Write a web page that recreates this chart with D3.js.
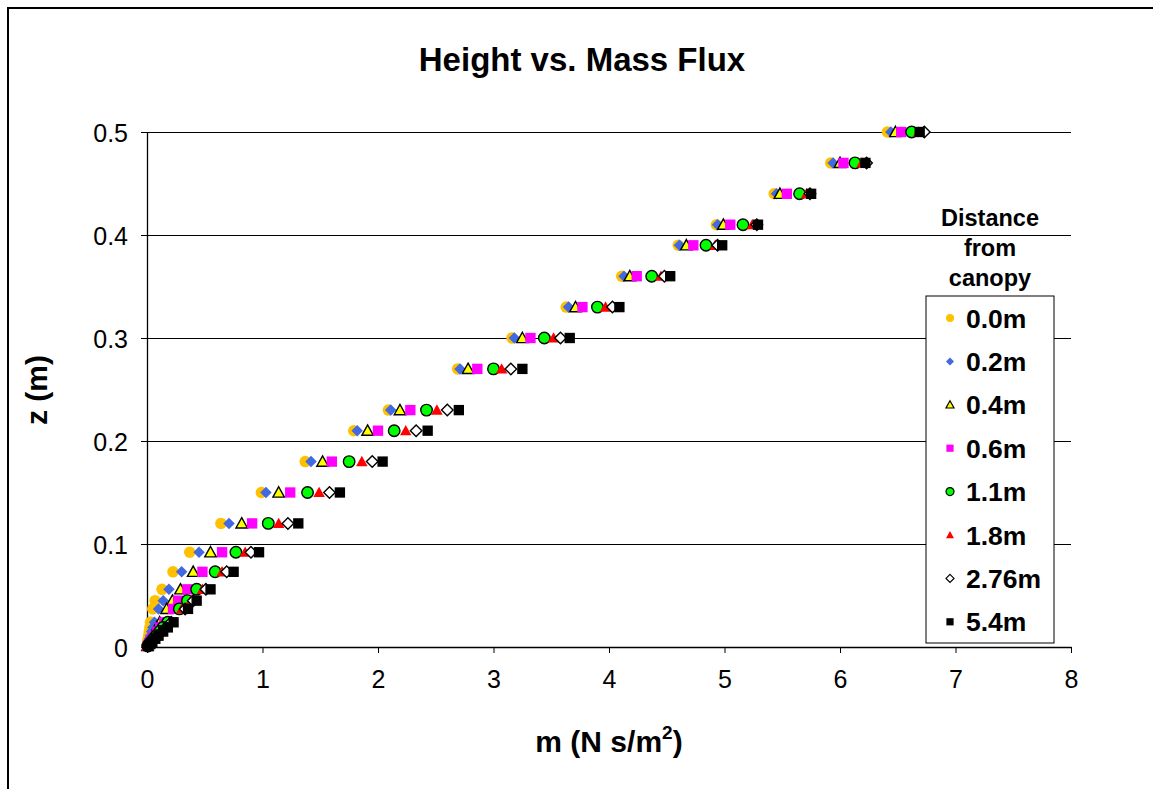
<!DOCTYPE html>
<html>
<head>
<meta charset="utf-8">
<script src="https://cdn.jsdelivr.net/npm/d3@7"></script>
<style>
  html, body { margin: 0; padding: 0; background: #fff; }
  svg { display: block; }
  text { font-family: "Liberation Sans", Arial, sans-serif; }
</style>
</head>
<body>
<svg id="chart" width="1153" height="789"></svg>
<script>
// Heights above ground (m) at which mass flux was measured
const heights = [0.5, 0.47, 0.44, 0.41, 0.39, 0.36, 0.33, 0.30, 0.27, 0.23, 0.21, 0.18, 0.15, 0.12,
                 0.092, 0.073, 0.056, 0.045, 0.037, 0.024, 0.019, 0.015, 0.011, 0.008, 0.005, 0.003, 0.001];

// Mass flux m (N s/m^2) for each distance from the canopy
const flux00  = [6.41, 5.92, 5.43, 4.93, 4.60, 4.11, 3.63, 3.16, 2.69, 2.09, 1.79, 1.37, 0.99, 0.64,
                 0.37, 0.225, 0.13, 0.07, 0.05, 0.03, 0.025, 0.02, 0.015, 0.01, 0.006, 0.004, 0.001];
const flux02  = [6.44, 5.94, 5.45, 4.94, 4.61, 4.13, 3.65, 3.18, 2.71, 2.11, 1.82, 1.42, 1.03, 0.71,
                 0.45, 0.30, 0.19, 0.14, 0.10, 0.065, 0.05, 0.04, 0.03, 0.02, 0.013, 0.008, 0.003];
const flux04  = [6.48, 6.00, 5.48, 4.99, 4.67, 4.18, 3.71, 3.25, 2.78, 2.19, 1.91, 1.52, 1.14, 0.82,
                 0.55, 0.40, 0.29, 0.22, 0.17, 0.11, 0.085, 0.065, 0.048, 0.034, 0.022, 0.013, 0.005];
const flux06  = [6.53, 6.03, 5.54, 5.05, 4.73, 4.24, 3.77, 3.32, 2.86, 2.28, 2.00, 1.60, 1.24, 0.91,
                 0.65, 0.48, 0.35, 0.27, 0.225, 0.15, 0.115, 0.09, 0.065, 0.047, 0.03, 0.018, 0.006];
const flux11  = [6.62, 6.13, 5.65, 5.16, 4.84, 4.37, 3.90, 3.44, 3.00, 2.42, 2.14, 1.75, 1.39, 1.05,
                 0.77, 0.59, 0.43, 0.35, 0.28, 0.18, 0.14, 0.11, 0.08, 0.057, 0.036, 0.022, 0.007];
const flux18  = [6.68, 6.19, 5.71, 5.24, 4.92, 4.45, 3.97, 3.52, 3.07, 2.51, 2.24, 1.86, 1.49, 1.14,
                 0.85, 0.65, 0.48, 0.38, 0.30, 0.195, 0.15, 0.12, 0.087, 0.062, 0.04, 0.024, 0.008];
const flux276 = [6.73, 6.23, 5.74, 5.28, 4.94, 4.48, 4.03, 3.58, 3.15, 2.60, 2.33, 1.95, 1.58, 1.22,
                 0.90, 0.69, 0.51, 0.40, 0.33, 0.21, 0.165, 0.13, 0.095, 0.068, 0.043, 0.026, 0.009];
const flux54  = [6.69, 6.22, 5.75, 5.29, 4.98, 4.53, 4.09, 3.66, 3.25, 2.70, 2.43, 2.04, 1.67, 1.31,
                 0.97, 0.75, 0.55, 0.43, 0.355, 0.23, 0.18, 0.14, 0.10, 0.072, 0.046, 0.028, 0.01];

const seriesLabels = ["0.0m", "0.2m", "0.4m", "0.6m", "1.1m", "1.8m", "2.76m", "5.4m"];
const seriesValues = [flux00, flux02, flux04, flux06, flux11, flux18, flux276, flux54];

const xTicks = [0, 1, 2, 3, 4, 5, 6, 7, 8];
const yTicks = [0, 0.1, 0.2, 0.3, 0.4, 0.5];

// Marker styling per series: shape, fill, stroke
const markerStyles = [
  { shape: "circle",   fill: "#FFC000", stroke: "none" },
  { shape: "diamond",  fill: "#4169E1", stroke: "none" },
  { shape: "triangle", fill: "#FFFF00", stroke: "#000" },
  { shape: "square",   fill: "#FF00FF", stroke: "none" },
  { shape: "circle",   fill: "#00FF00", stroke: "#000" },
  { shape: "triangle", fill: "#FF0000", stroke: "none" },
  { shape: "diamond",  fill: "#FFFFFF", stroke: "#000" },
  { shape: "square",   fill: "#000000", stroke: "none" }
];

function markerPath(shape, s) {
  const h = s / 2;
  switch (shape) {
    case "circle":
      return `M${h},0A${h},${h} 0 1,1 ${-h},0A${h},${h} 0 1,1 ${h},0Z`;
    case "diamond":
      return `M0,${-h}L${h},0L0,${h}L${-h},0Z`;
    case "triangle":
      return `M0,${-h}L${h},${h * 0.8}L${-h},${h * 0.8}Z`;
    case "square":
      return `M${-h * 0.9},${-h * 0.9}H${h * 0.9}V${h * 0.9}H${-h * 0.9}Z`;
  }
}

const svg = d3.select("#chart");
const W = 1153, H = 789;
const plot = { left: 147, right: 1071, top: 132, bottom: 647 };

// Outer chart frame
svg.append("rect")
  .attr("x", 8).attr("y", 8)
  .attr("width", W + 10).attr("height", H + 10)
  .attr("fill", "#fff").attr("stroke", "#000").attr("stroke-width", 2);

const x = d3.scaleLinear().domain([0, 8]).range([plot.left, plot.right]);
const y = d3.scaleLinear().domain([0, 0.5]).range([plot.bottom, plot.top]);

// Horizontal gridlines
svg.append("g")
  .selectAll("line")
  .data(yTicks.filter(d => d > 0))
  .join("line")
  .attr("x1", plot.left).attr("x2", plot.right)
  .attr("y1", d => y(d)).attr("y2", d => y(d))
  .attr("stroke", "#000").attr("stroke-width", 1)
  .attr("shape-rendering", "crispEdges");

// Axes
const xAxis = svg.append("g")
  .attr("transform", `translate(0,${plot.bottom})`)
  .call(d3.axisBottom(x).tickValues(xTicks).tickFormat(d3.format("d")).tickSize(6).tickSizeOuter(0).tickPadding(22));
const yAxis = svg.append("g")
  .attr("transform", `translate(${plot.left},0)`)
  .call(d3.axisLeft(y).tickValues(yTicks).tickFormat(d => d === 0 ? "0" : d3.format(".1f")(d)).tickSize(6).tickSizeOuter(0).tickPadding(13));

[xAxis, yAxis].forEach(g => {
  g.select(".domain").attr("stroke", "#000").attr("stroke-width", 1.3);
  g.selectAll(".tick line").attr("stroke", "#000").attr("stroke-width", 1);
  g.selectAll(".tick text")
    .attr("font-family", "'Liberation Sans', Arial, sans-serif")
    .attr("font-size", 25).attr("fill", "#000");
});
xAxis.selectAll(".tick text").attr("dy", "0.5em");
yAxis.selectAll(".tick text").attr("dy", "0.36em");

// Data markers, drawn series by series so later series sit on top
const markerSize = 11.5;
seriesValues.forEach((vals, i) => {
  const st = markerStyles[i];
  svg.append("g")
    .selectAll("path")
    .data(heights.map((h, j) => ({ z: h, m: vals[j] })))
    .join("path")
    .attr("transform", d => `translate(${x(d.m)},${y(d.z)})`)
    .attr("d", markerPath(st.shape, markerSize))
    .attr("fill", st.fill)
    .attr("stroke", st.stroke)
    .attr("stroke-width", st.stroke === "none" ? 0 : 1.4);
});

// Title
svg.append("text")
  .attr("x", 582).attr("y", 71)
  .attr("text-anchor", "middle")
  .attr("font-size", 33).attr("font-weight", "bold")
  .text("Height vs. Mass Flux");

// Axis titles
const xTitle = svg.append("text")
  .attr("x", 609).attr("y", 752)
  .attr("text-anchor", "middle")
  .attr("font-size", 30).attr("font-weight", "bold");
xTitle.append("tspan").text("m (N s/m");
xTitle.append("tspan").attr("font-size", 19).attr("dy", -13).text("2");
xTitle.append("tspan").attr("dy", 13).text(")");

svg.append("text")
  .attr("transform", "translate(47,390) rotate(-90)")
  .attr("text-anchor", "middle")
  .attr("font-size", 30).attr("font-weight", "bold")
  .text("z (m)");

// Legend title
const legendTitle = ["Distance", "from", "canopy"];
svg.append("g")
  .selectAll("text")
  .data(legendTitle)
  .join("text")
  .attr("x", 990)
  .attr("y", (d, i) => 226 + i * 30)
  .attr("text-anchor", "middle")
  .attr("font-size", 23.5).attr("font-weight", "bold")
  .text(d => d);

// Legend box
const legend = svg.append("g");
legend.append("rect")
  .attr("x", 926).attr("y", 296)
  .attr("width", 128).attr("height", 347)
  .attr("fill", "#fff").attr("stroke", "#000").attr("stroke-width", 1);

const legendRows = legend.selectAll("g.row")
  .data(seriesLabels)
  .join("g")
  .attr("class", "row")
  .attr("transform", (d, i) => `translate(950,${318 + i * 43.4})`);

legendRows.append("path")
  .attr("d", (d, i) => markerPath(markerStyles[i].shape, 8))
  .attr("fill", (d, i) => markerStyles[i].fill)
  .attr("stroke", (d, i) => markerStyles[i].stroke)
  .attr("stroke-width", (d, i) => markerStyles[i].stroke === "none" ? 0 : 1.2);

legendRows.append("text")
  .attr("x", 16).attr("dy", "0.36em")
  .attr("font-size", 26.5).attr("font-weight", "bold")
  .text(d => d);
</script>
</body>
</html>
